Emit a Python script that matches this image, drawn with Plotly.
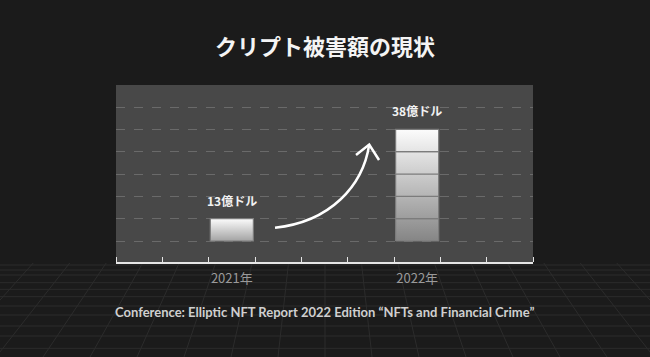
import plotly.graph_objects as go

# ---- data ----
categories = ["2021年", "2022年"]
damage_oku_usd = [13, 38]          # 億ドル (label values)
bar_blocks = [1, 5]                # stacked blocks drawn per bar
label_suffix = "億ドル"
title_text = "クリプト被害額の現状"
source_text = "Conference: Elliptic NFT Report 2022 Edition “NFTs and Financial Crime”"

# ---- style ----
PAPER = "#1b1b1b"
PLOT = "#484848"
slot_pos = [2.5, 6.5]
bar_w = 0.93
grad_bottom = ["#a3a3a3", "#858585"]
grad_top = "#fcfcfc"

fig = go.Figure()

for i, cat in enumerate(categories):
    c = slot_pos[i]
    n = bar_blocks[i]
    for k in range(n):
        fig.add_trace(go.Scatter(
            x=[c - bar_w / 2, c + bar_w / 2, c + bar_w / 2, c - bar_w / 2, c - bar_w / 2],
            y=[k, k, k + 1, k + 1, k],
            mode="lines",
            fill="toself",
            fillgradient=dict(type="vertical",
                              colorscale=[[0, grad_bottom[i]], [1, grad_top]],
                              start=0, stop=n),
            line=dict(color="#7c7c7c", width=1.2),
            hoverinfo="skip", showlegend=False,
        ))
    fig.add_annotation(
        x=c, y=n, xref="x", yref="y", yanchor="bottom", yshift=8,
        text=f"<b>{damage_oku_usd[i]}{label_suffix}</b>", showarrow=False,
        font=dict(family="Noto Sans CJK JP", size=12, color="#f2f2f2"),
    )

# curved arrow (decoration)
fig.add_shape(type="path", xref="x", yref="y",
              path="M 3.432,0.596 C 4.619,0.851 5.331,2.463 5.465,4.321",
              line=dict(color="white", width=2.5))
fig.add_shape(type="path", xref="x", yref="y",
              path="M 5.180,3.851 L 5.465,4.321 L 5.677,3.627",
              line=dict(color="white", width=2.5))

# perspective floor (decoration) in paper coords
PX0, PW, PY0, PH = 116.0, 417.0, 262.0, 177.0
def xp(px):
    return (px - PX0) / PW
def yp(py):
    return (PY0 - py) / PH
floor_rows = [265, 270, 275, 282.7, 289.3, 296.7, 306, 315, 326, 336, 348.3]
for r in floor_rows:
    fig.add_shape(type="line", xref="paper", yref="paper", layer="below",
                  x0=xp(0), x1=xp(650), y0=yp(r), y1=yp(r),
                  line=dict(color="#2c2c2c", width=1))
for k in range(-10, 11):
    xb = 325 + 47 * k
    xt = 325 + 47 * k * 0.776
    fig.add_shape(type="line", xref="paper", yref="paper", layer="below",
                  x0=xp(xb), x1=xp(xt), y0=yp(357), y1=yp(263),
                  line=dict(color="#2c2c2c", width=1))

fig.add_annotation(
    x=0.5, y=yp(311.5), xref="paper", yref="paper", showarrow=False,
    text=source_text, xanchor="center", yanchor="middle",
    font=dict(family="Lato", size=13, color="#cfcfcf", weight=700),
)

fig.update_layout(
    width=650, height=357,
    paper_bgcolor=PAPER, plot_bgcolor=PLOT,
    margin=dict(l=116, r=117, t=85, b=95),
    title=dict(text=f"<b>{title_text}</b>", x=0.5, xanchor="center",
               y=1 - 47 / 357, yanchor="middle",
               font=dict(family="Noto Sans CJK JP", size=22, color="#f4f4f4")),
    showlegend=False,
    xaxis=dict(range=[0, 9], tickvals=slot_pos, ticktext=categories,
               ticks="", showgrid=False, zeroline=False,
               showline=True, linecolor="#e6e6e6", linewidth=2,
               tickfont=dict(family="Noto Sans CJK JP", size=13, color="#9a9a9a"),
               ticklabelstandoff=3,
               minor=dict(tickmode="linear", tick0=0, dtick=1, ticks="inside",
                          ticklen=5, tickcolor="#e6e6e6", tickwidth=1, showgrid=False),
               fixedrange=True),
    yaxis=dict(range=[-0.94, 6.986], tickvals=list(range(0, 7)),
               showticklabels=False, ticks="", zeroline=False,
               showgrid=True, gridcolor="#6a6a6a", griddash="dash", gridwidth=1,
               fixedrange=True),
)

fig.write_html("out.html", config={"displayModeBar": False},
               post_script="document.body.style.margin='0';document.body.style.background='#1b1b1b';")
